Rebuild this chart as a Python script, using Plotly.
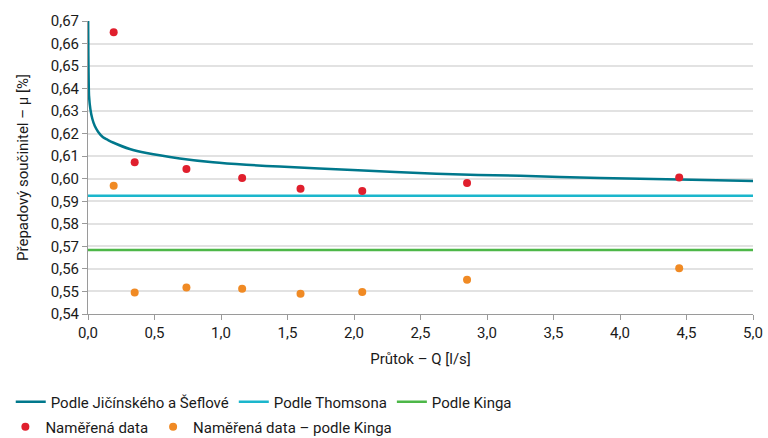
import plotly.graph_objects as go

# Flow rate Q [l/s] and discharge coefficient readings
q_measured = [0.193, 0.351, 0.740, 1.159, 1.598, 2.062, 2.850, 4.445]
mu_measured = [0.665, 0.6073, 0.6043, 0.6003, 0.5956, 0.5946, 0.5981, 0.6006]
mu_measured_king = [0.5969, 0.5495, 0.5518, 0.5512, 0.5490, 0.5498, 0.5552, 0.5603]

# Jičínský & Šeflová curve, sampled along Q
q_curve = [0.0008, 0.0028, 0.0053, 0.0078, 0.0178, 0.0329, 0.0504, 0.0755, 0.113,
           0.150, 0.188, 0.314, 0.44, 0.69, 0.94, 1.19, 1.44, 1.99, 2.62, 3.25,
           3.85, 4.45, 5.05]
mu_curve = [0.672, 0.6545, 0.6427, 0.6368, 0.6309, 0.6265, 0.6235, 0.6209, 0.6184,
            0.6172, 0.6161, 0.6132, 0.6114, 0.609, 0.6073, 0.6062, 0.6054, 0.6039,
            0.6022, 0.6013, 0.6003, 0.5997, 0.599]

# Constant coefficients
q_const = [0.0, 5.0]
mu_thomson = 0.5925
mu_king = 0.5684

FONT = "Roboto"
TEXT = "#1a1a1a"
SIZE = 15

fig = go.Figure()

fig.add_trace(go.Scatter(
    x=q_curve, y=mu_curve, mode="lines", name="Podle Jičínského a Šeflové",
    line=dict(color="#00788c", width=2.5, shape="spline", smoothing=0.8),
    legend="legend"))
fig.add_trace(go.Scatter(
    x=q_const, y=[mu_thomson] * 2, mode="lines", name="Podle Thomsona",
    line=dict(color="#1bb6cc", width=2.5), legend="legend"))
fig.add_trace(go.Scatter(
    x=q_const, y=[mu_king] * 2, mode="lines", name="Podle Kinga",
    line=dict(color="#4db748", width=2.5), legend="legend"))
fig.add_trace(go.Scatter(
    x=q_measured, y=mu_measured, mode="markers", name="Naměřená data",
    marker=dict(color="#e01f2d", size=8), legend="legend2"))
fig.add_trace(go.Scatter(
    x=q_measured, y=mu_measured_king, mode="markers", name="Naměřená data – podle Kinga",
    marker=dict(color="#f08a24", size=8), legend="legend2"))

axis_common = dict(
    showline=True, linecolor="#9a9a9a", linewidth=1,
    ticks="outside", ticklen=5, tickcolor="#9a9a9a",
    tickfont=dict(family=FONT, size=SIZE, color=TEXT),
    zeroline=False, automargin=False,
)

fig.update_layout(
    width=768, height=438,
    margin=dict(l=88, r=15, t=21, b=124, autoexpand=False),
    paper_bgcolor="white", plot_bgcolor="white",
    separators=", ",
    font=dict(family=FONT, size=SIZE, color=TEXT),
    xaxis=dict(range=[0, 5], dtick=0.5, tickformat=".1f", showgrid=False,
               title=dict(text="Průtok – Q [l/s]", standoff=12,
                          font=dict(family=FONT, size=SIZE, color=TEXT)),
               **axis_common),
    yaxis=dict(range=[0.54, 0.67], dtick=0.01, tickformat=".2f",
               showgrid=True, gridcolor="#e2e2e2", gridwidth=1.5,
               title=dict(text="Přepadový součinitel – μ [%]", standoff=18,
                          font=dict(family=FONT, size=SIZE, color=TEXT)),
               **axis_common),
    legend=dict(orientation="h", xref="container", yref="container",
                x=0.014, y=0.082, xanchor="left", yanchor="middle",
                font=dict(family=FONT, size=SIZE, color=TEXT),
                itemwidth=30, tracegroupgap=0, bgcolor="rgba(0,0,0,0)"),
    legend2=dict(orientation="h", xref="container", yref="container",
                 x=0.007, y=0.0251, xanchor="left", yanchor="middle",
                 font=dict(family=FONT, size=SIZE, color=TEXT),
                 itemwidth=30, bgcolor="rgba(0,0,0,0)"),
    showlegend=True,
)

fig.write_html("out.html")
